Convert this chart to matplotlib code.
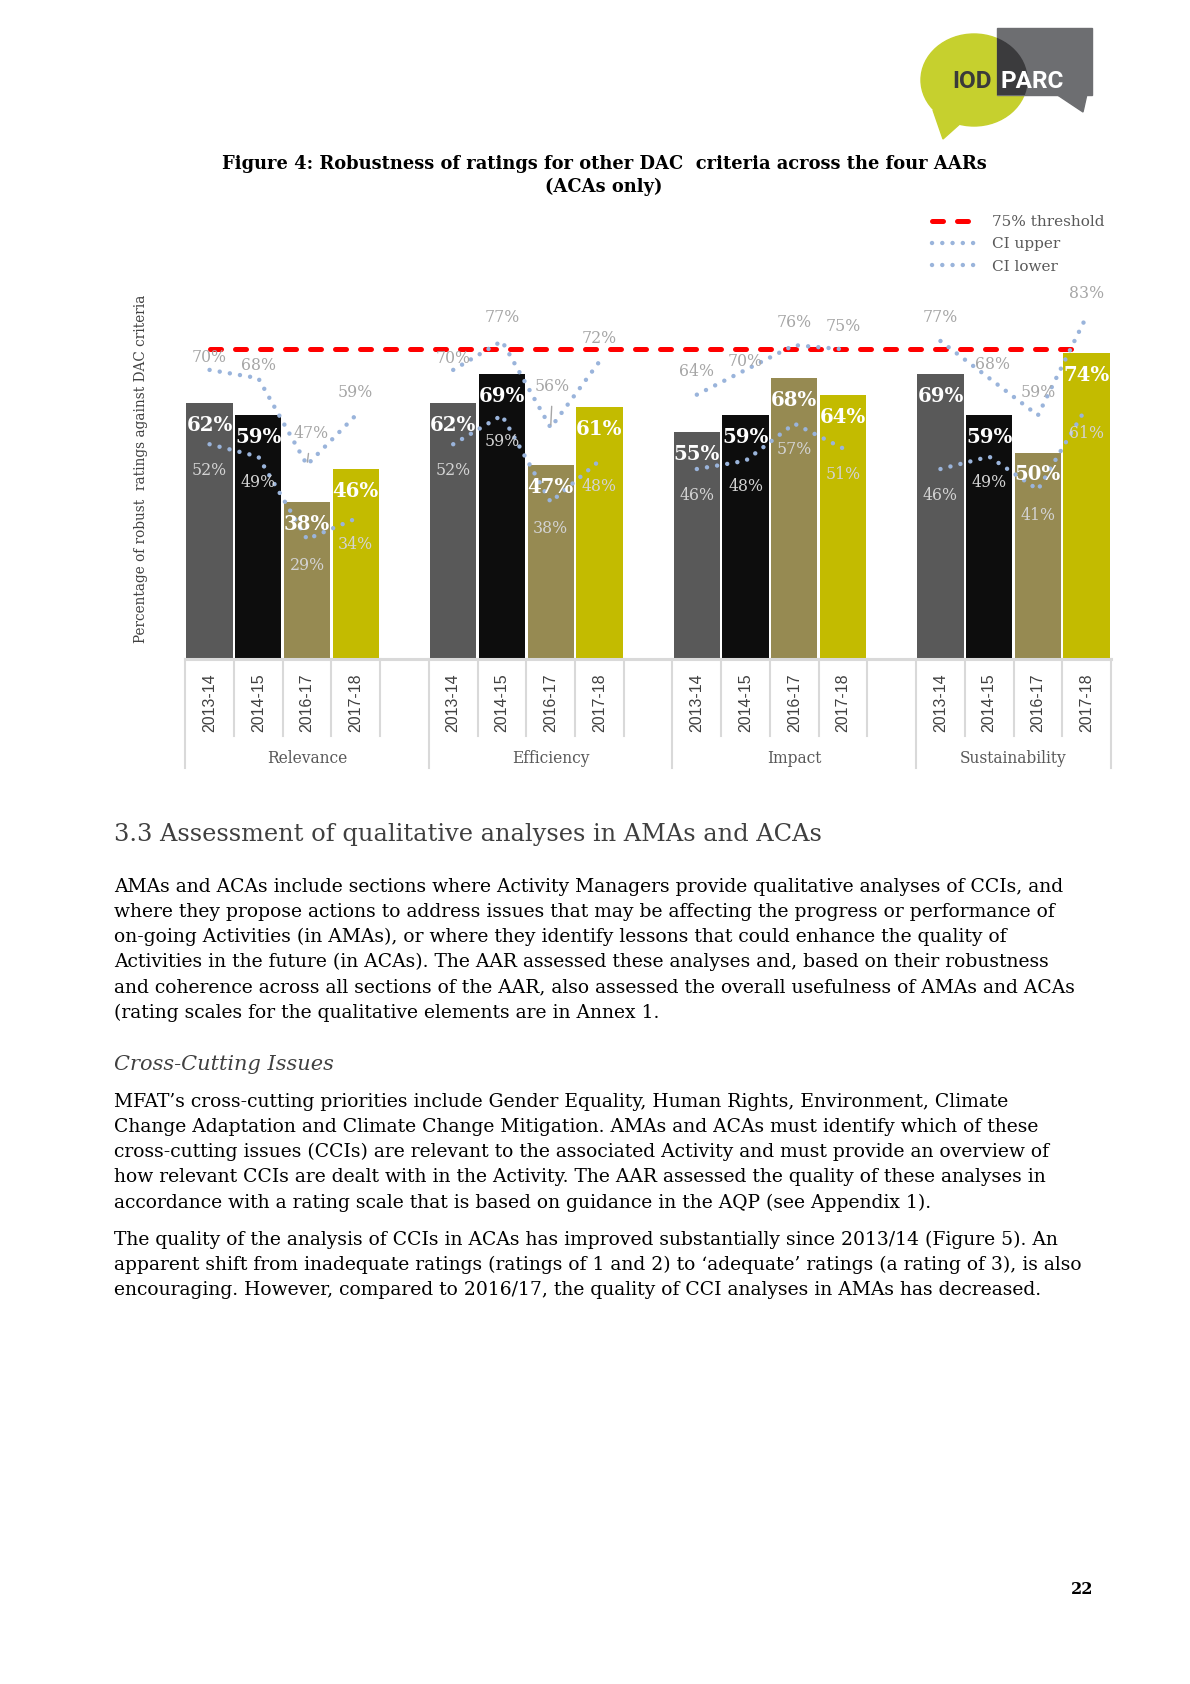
import numpy as np
import matplotlib
matplotlib.use('Agg')
import matplotlib.pyplot as plt
from matplotlib.patches import Ellipse, Rectangle, Polygon

W, H = 1190, 1684     # page size in pixels
DPI = 100
SERIF = 'DejaVu Serif'
SANS = 'Liberation Sans'
plt.rcParams['font.family'] = SERIF

# ---- data ----
groups = ['Relevance', 'Efficiency', 'Impact', 'Sustainability']
years = ['2013-14', '2014-15', '2016-17', '2017-18']
robust = [62, 59, 38, 46, 62, 69, 47, 61, 55, 59, 68, 64, 69, 59, 50, 74]
ci_upper = [70, 68, 47, 59, 70, 77, 56, 72, 64, 70, 76, 75, 77, 68, 59, 83]
ci_lower = [52, 49, 29, 34, 52, 59, 38, 48, 46, 48, 57, 51, 46, 49, 41, 61]
threshold = 75

# ---- styles ----
bar_cols = ['#595959', '#0D0D0D', '#968A52', '#C3BB00']
ci_col = '#9AB4DB'
grid_col = '#D9D9D9'
# label nudges for the upper CI labels (index: (dx, dy) pixels), leader lines
up_nudge = {0: (0, 12), 1: (0, 13), 2: (4, 31), 4: (0, 11), 6: (2, 41), 9: (0, 8), 13: (3, 14)}
leaders = [2, 6]

fig = plt.figure(figsize=(W / DPI, H / DPI), dpi=DPI, facecolor='white')

# page axes in pixel coords (y down)
pax = fig.add_axes([0, 0, 1, 1], zorder=-1)
pax.set_xlim(0, W)
pax.set_ylim(H, 0)
pax.axis('off')

# logo
green = Ellipse((974, 80), 106, 92, color='#C6D02E', zorder=1)
pax.add_patch(green)
pax.add_patch(Polygon([(933, 110), (962, 122), (943, 139)], closed=True, color='#C6D02E', zorder=1))
grey = Rectangle((997, 28), 95, 67, color='#6D6E71', zorder=2)
pax.add_patch(grey)
pax.add_patch(Polygon([(1056, 94), (1087, 94), (1083, 112)], closed=True, color='#6D6E71', zorder=2))
over = Ellipse((974, 80), 106, 92, color='#3B3B3D', zorder=3)
pax.add_patch(over)
over.set_clip_path(grey)
pax.text(952, 81, 'IOD', fontsize=17.5, fontweight='bold', family='Roboto', color='#3A3A3A',
         va='center', ha='left', zorder=4)
pax.text(1001, 81, 'PARC', fontsize=17.5, fontweight='bold', family='Roboto', color='white',
         va='center', ha='left', zorder=4)

# figure title
pax.text(604, 164, 'Figure 4: Robustness of ratings for other DAC  criteria across the four AARs',
         fontsize=12.9, fontweight='bold', ha='center', va='center', color='black')
pax.text(604, 187, '(ACAs only)', fontsize=12.9, fontweight='bold', ha='center', va='center', color='black')

# y label
pax.text(141, 469, 'Percentage of robust  ratings against DAC criteria', rotation=90,
         fontsize=9.8, ha='center', va='center', color='#404040')

# ---- chart ----
ax = fig.add_axes([185.2 / W, (H - 659) / H, 925.8 / W, 413 / H])
ax.set_xlim(-0.5, 18.5)
ax.set_ylim(0, 100)
ax.axis('off')
ax.patch.set_alpha(0)

x = np.array([g * 5 + i for g in range(len(groups)) for i in range(len(years))])
cols = [bar_cols[i] for g in range(len(groups)) for i in range(len(years))]
ax.bar(x, robust, width=0.95, color=cols, zorder=2)

ax.plot([x[0], x[-1] - 0.2], [threshold, threshold], color='#FF0000', lw=3.6,
        linestyle=(0, (2.2, 2.8)), dash_capstyle='round', zorder=3, label='75% threshold')

dots = (0, (0.01, 2.3))
for g in range(len(groups)):
    s = slice(g * 4, g * 4 + 4)
    ax.plot(x[s], ci_upper[s], color=ci_col, lw=3.2, linestyle=dots, dash_capstyle='round',
            zorder=4, label='CI upper' if g == 0 else None)
    ax.plot(x[s], ci_lower[s], color=ci_col, lw=3.2, linestyle=dots, dash_capstyle='round',
            zorder=4, label='CI lower' if g == 0 else None)

for k in range(len(x)):
    ax.annotate(f'{robust[k]}%', (x[k], robust[k]), xytext=(0, -22), textcoords='offset pixels',
                ha='center', va='center', color='white', fontweight='bold', fontsize=14.2, zorder=6)
    dx, dy = up_nudge.get(k, (0, 23))
    ap = dict(arrowstyle='-', color='#A6A6A6', lw=1, shrinkA=6, shrinkB=2) if k in leaders else None
    ax.annotate(f'{ci_upper[k]}%', (x[k], ci_upper[k]), xytext=(dx, dy), textcoords='offset pixels',
                ha='center', va='center', color='#A6A6A6', fontsize=11.3, zorder=6, arrowprops=ap)
    ax.annotate(f'{ci_lower[k]}%', (x[k], ci_lower[k]), xytext=(0, -26), textcoords='offset pixels',
                ha='center', va='center', color='#D3D3D3', fontsize=11.3, zorder=6)

# category axis
ax.plot([-0.5, 18.5], [0, 0], color=grid_col, lw=2.2, clip_on=False, zorder=5)
bounds = [-0.5, 4.5, 9.5, 14.5, 18.5]
for b in np.arange(-0.5, 19, 1.0):
    low = -26.5 if b in bounds else -18.6
    ax.plot([b, b], [0, low], color=grid_col, lw=1.5, clip_on=False, zorder=5)
for k in range(len(x)):
    ax.text(x[k], -10.5, years[k % 4], rotation=90, ha='center', va='center', family=SANS,
            fontsize=11.5, color='#404040', clip_on=False)
for g in range(len(groups)):
    ax.text((bounds[g] + bounds[g + 1]) / 2, -24, groups[g], ha='center', va='center',
            fontsize=11.2, color='#595959', clip_on=False)

leg = fig.legend(loc='upper left', bbox_to_anchor=(932 / W, 1 - 215 / H), frameon=False,
                 fontsize=11, handlelength=3.3, handletextpad=0.65, labelspacing=0.55,
                 borderpad=0, borderaxespad=0)
for t in leg.get_texts():
    t.set_color('#595959')

# ---- page text ----
pax.text(114, 835, '3.3 Assessment of qualitative analyses in AMAs and ACAs', fontsize=17.4,
         ha='left', va='center', color='#3F3F3F')

para1 = ['AMAs and ACAs include sections where Activity Managers provide qualitative analyses of CCIs, and',
         'where they propose actions to address issues that may be affecting the progress or performance of',
         'on-going Activities (in AMAs), or where they identify lessons that could enhance the quality of',
         'Activities in the future (in ACAs). The AAR assessed these analyses and, based on their robustness',
         'and coherence across all sections of the AAR, also assessed the overall usefulness of AMAs and ACAs',
         '(rating scales for the qualitative elements are in Annex 1.']
para2 = ['MFAT\u2019s cross-cutting priorities include Gender Equality, Human Rights, Environment, Climate',
         'Change Adaptation and Climate Change Mitigation. AMAs and ACAs must identify which of these',
         'cross-cutting issues (CCIs) are relevant to the associated Activity and must provide an overview of',
         'how relevant CCIs are dealt with in the Activity. The AAR assessed the quality of these analyses in',
         'accordance with a rating scale that is based on guidance in the AQP (see Appendix 1).']
para3 = ['The quality of the analysis of CCIs in ACAs has improved substantially since 2013/14 (Figure 5). An',
         'apparent shift from inadequate ratings (ratings of 1 and 2) to \u2018adequate\u2019 ratings (a rating of 3), is also',
         'encouraging. However, compared to 2016/17, the quality of CCI analyses in AMAs has decreased.']

def block(lines, y0, step=25.1):
    for i, s in enumerate(lines):
        pax.text(114, y0 + i * step, s, fontsize=13.5, ha='left', va='center', color='black')

block(para1, 887)
pax.text(114, 1064, 'Cross-Cutting Issues', fontsize=15, style='italic', ha='left', va='center',
         color='#404040')
block(para2, 1102)
block(para3, 1240)

pax.text(1082, 1590, '22', fontsize=11.5, fontweight='bold', ha='center', va='center', color='black')

fig.savefig('out.png', dpi=DPI, facecolor='white')
